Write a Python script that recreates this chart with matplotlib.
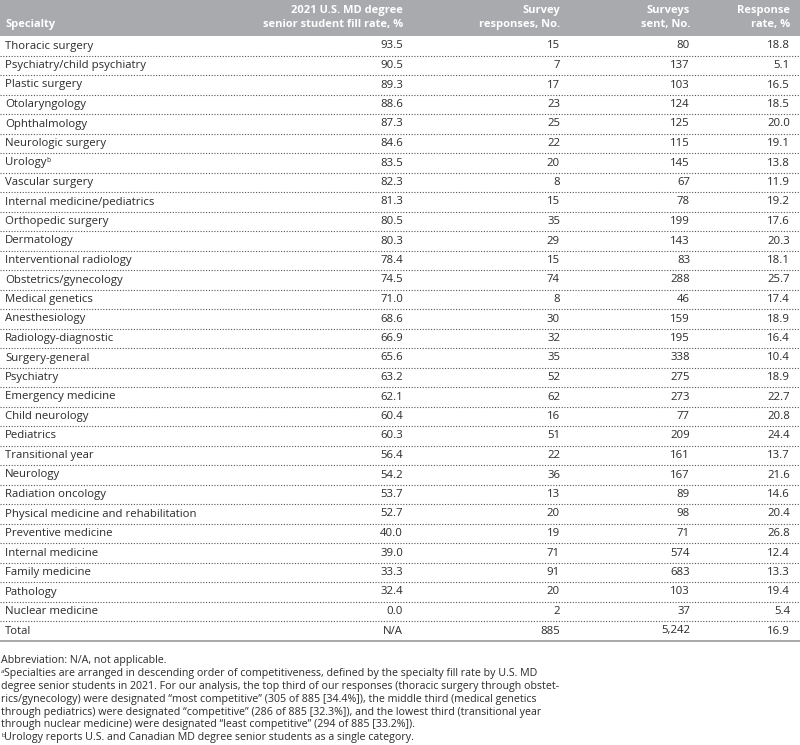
import matplotlib
matplotlib.use("Agg")
import matplotlib.pyplot as plt

specialties = ["Thoracic surgery", "Psychiatry/child psychiatry", "Plastic surgery", "Otolaryngology",
               "Ophthalmology", "Neurologic surgery", "Urology", "Vascular surgery",
               "Internal medicine/pediatrics", "Orthopedic surgery", "Dermatology",
               "Interventional radiology", "Obstetrics/gynecology", "Medical genetics",
               "Anesthesiology", "Radiology-diagnostic", "Surgery-general", "Psychiatry",
               "Emergency medicine", "Child neurology", "Pediatrics", "Transitional year",
               "Neurology", "Radiation oncology", "Physical medicine and rehabilitation",
               "Preventive medicine", "Internal medicine", "Family medicine", "Pathology",
               "Nuclear medicine"]
fill_rate = [93.5, 90.5, 89.3, 88.6, 87.3, 84.6, 83.5, 82.3, 81.3, 80.5, 80.3, 78.4, 74.5, 71.0,
             68.6, 66.9, 65.6, 63.2, 62.1, 60.4, 60.3, 56.4, 54.2, 53.7, 52.7, 40.0, 39.0, 33.3,
             32.4, 0.0]
responses = [15, 7, 17, 23, 25, 22, 20, 8, 15, 35, 29, 15, 74, 8, 30, 32, 35, 52, 62, 16, 51, 22,
             36, 13, 20, 19, 71, 91, 20, 2]
sent = [80, 137, 103, 124, 125, 115, 145, 67, 78, 199, 143, 83, 288, 46, 159, 195, 338, 275, 273,
        77, 209, 161, 167, 89, 98, 71, 574, 683, 103, 37]
resp_rate = [18.8, 5.1, 16.5, 18.5, 20.0, 19.1, 13.8, 11.9, 19.2, 17.6, 20.3, 18.1, 25.7, 17.4,
             18.9, 16.4, 10.4, 18.9, 22.7, 20.8, 24.4, 13.7, 21.6, 14.6, 20.4, 26.8, 12.4, 13.3,
             19.4, 5.4]
total_row = ["Total", "N/A", "885", "5,242", "16.9"]

headers = [("Specialty", ""), ("2021 U.S. MD degree", "senior student fill rate, %"),
           ("Survey", "responses, No."), ("Surveys", "sent, No."), ("Response", "rate, %")]
footnotes = [
    ("", "Abbreviation: N/A, not applicable."),
    ("a", "Specialties are arranged in descending order of competitiveness, defined by the specialty fill rate by U.S. MD"),
    ("", "degree senior students in 2021. For our analysis, the top third of our responses (thoracic surgery through obstet-"),
    ("", "rics/gynecology) were designated \u201cmost competitive\u201d (305 of 885 [34.4%]), the middle third (medical genetics"),
    ("", "through pediatrics) were designated \u201ccompetitive\u201d (286 of 885 [32.3%]), and the lowest third (transitional year"),
    ("", "through nuclear medicine) were designated \u201cleast competitive\u201d (294 of 885 [33.2%])."),
    ("b", "Urology reports U.S. and Canadian MD degree senior students as a single category."),
]

plt.rcParams["font.family"] = ["Open Sans", "DejaVu Sans"]
fig = plt.figure(figsize=(8, 7.45), dpi=100)
ax = fig.add_axes([0, 0, 1, 1])
ax.set_xlim(0, 800); ax.set_ylim(745, 0); ax.axis("off")

fs = 8.2
ink = "#2b2b2b"
col_right = [None, 403, 560, 690, 790]
ax.add_patch(plt.Rectangle((0, 0), 800, 36, color="#a8aaad", lw=0))
for i, (l1, l2) in enumerate(headers):
    if i == 0:
        ax.text(5, 25, l1, fontsize=8.0, fontweight="bold", color="white", va="center", ha="left")
    else:
        ax.text(col_right[i], 11, l1, fontsize=8.0, fontweight="bold", color="white", va="center", ha="right")
        ax.text(col_right[i], 25, l2, fontsize=8.0, fontweight="bold", color="white", va="center", ha="right")

row_h = 19.5
y0 = 46
rows = [[s, f"{f:.1f}", str(r), str(n), f"{p:.1f}"]
        for s, f, r, n, p in zip(specialties, fill_rate, responses, sent, resp_rate)] + [total_row]
for k, row in enumerate(rows):
    y = y0 + k * row_h
    t = ax.text(5, y, row[0], fontsize=fs, color=ink, va="center", ha="left")
    if row[0] == "Urology":
        ax.annotate("b", xy=(1, 0.75), xycoords=t, fontsize=4.8, color=ink, va="center", ha="left")
    for j in range(1, 5):
        ax.text(col_right[j], y, row[j], fontsize=fs, color=ink, va="center", ha="right")
    yl = y + row_h / 2
    if k < len(rows) - 1:
        ax.plot([0, 800], [yl, yl], color="#555555", lw=0.8, ls=(0, (1, 1.5)))
    else:
        ax.plot([0, 800], [yl, yl], color="#999999", lw=1.2)

fy = 661
for k, (sup, line) in enumerate(footnotes):
    y = fy + k * 12.8
    x = 1
    if sup:
        ax.text(x, y - 2, sup, fontsize=4.6, color=ink, va="center", ha="left")
        x = 4.5
    ax.text(x, y, line, fontsize=7.65, color=ink, va="center", ha="left")

fig.savefig("out.png", dpi=100)
